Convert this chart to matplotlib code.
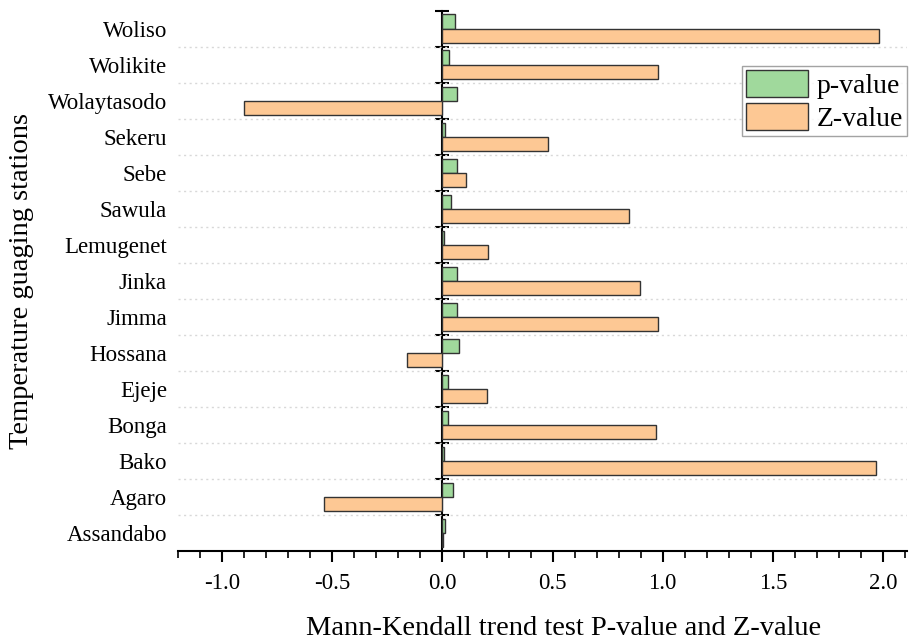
import matplotlib
matplotlib.use("Agg")
import matplotlib.pyplot as plt
import numpy as np
from matplotlib.ticker import MultipleLocator, FormatStrFormatter, FixedLocator, NullFormatter

plt.rcParams['font.family'] = ['Liberation Serif', 'DejaVu Serif']
plt.rcParams['axes.unicode_minus'] = False

stations = ["Assandabo", "Agaro", "Bako", "Bonga", "Ejeje", "Hossana", "Jimma",
            "Jinka", "Lemugenet", "Sawula", "Sebe", "Sekeru", "Wolaytasodo",
            "Wolikite", "Woliso"]
p_values = [0.01, 0.05, 0.005, 0.025, 0.025, 0.073, 0.065,
            0.065, 0.008, 0.037, 0.065, 0.013, 0.065, 0.03, 0.056]
z_values = [0.004, -0.54, 1.97, 0.97, 0.20, -0.16, 0.98,
            0.895, 0.205, 0.845, 0.105, 0.48, -0.90, 0.98, 1.98]

green = "#a0d99c"
orange = "#fdc894"
edge = "#333333"

fig = plt.figure(figsize=(9.09, 6.40), dpi=100)
ax = fig.add_axes([0.196, 0.139, 0.802, 0.844])

y = np.arange(len(stations))
h = 0.4
ax.barh(y + h / 2, p_values, height=h, color=green, edgecolor=edge, linewidth=1.0, label="p-value", zorder=3)
ax.barh(y - h / 2, z_values, height=h, color=orange, edgecolor=edge, linewidth=1.0, label="Z-value", zorder=3)

xmin, xmax = -1.2, 2.11
ax.set_xlim(xmin, xmax)
ax.set_ylim(-0.5, len(stations) - 0.5)

for s in ["top", "right", "left"]:
    ax.spines[s].set_visible(False)
ax.spines["bottom"].set_linewidth(1.5)

ax.xaxis.set_major_locator(MultipleLocator(0.5))
ax.xaxis.set_minor_locator(MultipleLocator(0.1))
ax.xaxis.set_major_formatter(FormatStrFormatter("%.1f"))
ax.tick_params(axis="x", which="major", direction="out", length=8, width=1.5, labelsize=16.5, pad=8)
ax.tick_params(axis="x", which="minor", direction="out", length=5, width=1.2)

ax.set_yticks(y)
ax.set_yticklabels(stations)
ax.tick_params(axis="y", which="major", length=0, labelsize=16.5, pad=8)
ax.yaxis.set_minor_locator(FixedLocator(np.arange(-0.5, len(stations) - 1, 1.0)))
ax.yaxis.grid(True, which="minor", linestyle=(0, (1.5, 2.5)), color="#d8d8d8", linewidth=1.0, zorder=0)
ax.tick_params(axis="y", which="minor", length=0)

# vertical axis line at x = 0
loc0 = (0 - xmin) / (xmax - xmin)
sec = ax.secondary_yaxis(loc0)
for sp in sec.spines.values():
    sp.set_linewidth(1.5)
sec.yaxis.set_major_locator(FixedLocator(np.arange(0.5, len(stations) + 0.5, 1.0)))
sec.yaxis.set_major_formatter(NullFormatter())
sec.tick_params(axis="y", direction="inout", length=10, width=1.5)

ax.set_xlabel("Mann-Kendall trend test P-value and Z-value", fontsize=20.5)
ax.xaxis.set_label_coords(0.528, -0.12)
ax.set_ylabel("Temperature guaging stations", fontsize=20.5, labelpad=10)

leg = ax.legend(loc="upper right", bbox_to_anchor=(1.0, 0.898), fontsize=20,
                frameon=True, fancybox=False, edgecolor="#8c8c8c",
                handlelength=2.25, handleheight=1.1, borderpad=0.15,
                labelspacing=0.15, handletextpad=0.3, borderaxespad=0.0)
leg.get_frame().set_linewidth(1.0)

fig.savefig("out.png", dpi=100)
